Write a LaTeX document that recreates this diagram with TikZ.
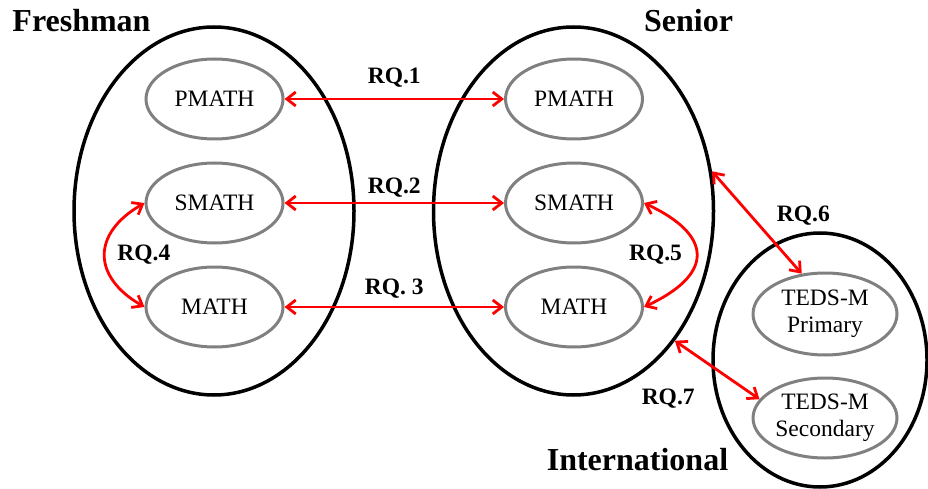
\documentclass[tikz,border=0pt]{standalone}
\usepackage{fontspec}
\setmainfont{Liberation Serif}
\usetikzlibrary{positioning, shapes.geometric, arrows.meta}

\begin{document}
\begin{tikzpicture}[x=1pt, y=-1pt,
	group/.style={draw, ellipse, line width=3.5pt, inner sep=0pt, minimum width=280pt, minimum height=368pt},
	item/.style={draw=gray, ellipse, line width=3pt, inner sep=0pt, minimum width=137pt, minimum height=80pt, align=center, font=\fontsize{23.5}{27}\selectfont},
	title/.style={anchor=base, inner sep=0pt, font=\fontsize{32}{34}\selectfont\bfseries},
	rq/.style={red, line width=2.8pt, {Straight Barb[length=9pt,width=14pt]}-{Straight Barb[length=9pt,width=14pt]}},
	rqlabel/.style={text=black, inner sep=0pt, font=\fontsize{23.5}{24}\selectfont\bfseries}]
	\useasboundingbox (0,0) rectangle (928,489);

	\node[group] (freshman) at (214,211) {};
	\node[group] (senior) at (573.5,211) {};
	\node[group, minimum width=214pt, minimum height=254pt] (international) at (820,360) {};

	\node[item] (pmathF) at (214.5,99) {PMATH};
	\node[item] (smathF) at (214.5,203) {SMATH};
	\node[item] (mathF) at (214.5,307) {MATH};
	\node[item] (pmathS) at (574,99) {PMATH};
	\node[item] (smathS) at (574,203) {SMATH};
	\node[item] (mathS) at (574,307) {MATH};
	\node[item, minimum width=144pt, minimum height=82pt] (primary) at (825,314) {TEDS-M\\Primary};
	\node[item, minimum width=144pt] (secondary) at (825,418) {TEDS-M\\Secondary};

	\node[title] (freshmanT) at (81.5,32) {Freshman};
	\node[title] (seniorT) at (688.5,32) {Senior};
	\node[title] (internationalT) at (637.5,470) {International};

	\draw[rq] (pmathF.east) -- (pmathS.west) node[rqlabel, midway, above=10pt]{RQ.1};
	\draw[rq] (smathF.east) -- (smathS.west) node[rqlabel, midway, above=4pt]{RQ.2};
	\draw[rq] (mathF.east) -- (mathS.west) node[rqlabel, midway, above=7pt]{RQ. 3};
	\draw[rq] (smathF.west) to[out=210, in=150, looseness=1.5] node[rqlabel, midway, right=11pt]{RQ.4} (mathF.west);
	\draw[rq] (smathS.east) to[out=-25, in=25, looseness=1.9] node[rqlabel, midway, left=13pt]{RQ.5} (mathS.east);
	\draw[rq] (senior.16) -- (primary.120) node[rqlabel, pos=0.43, right=25pt]{RQ.6};
	\draw[rq] (senior.-52) -- (secondary.164) node[rqlabel, pos=0.25, below left=32pt and 0pt]{RQ.7};
\end{tikzpicture}
\end{document}
